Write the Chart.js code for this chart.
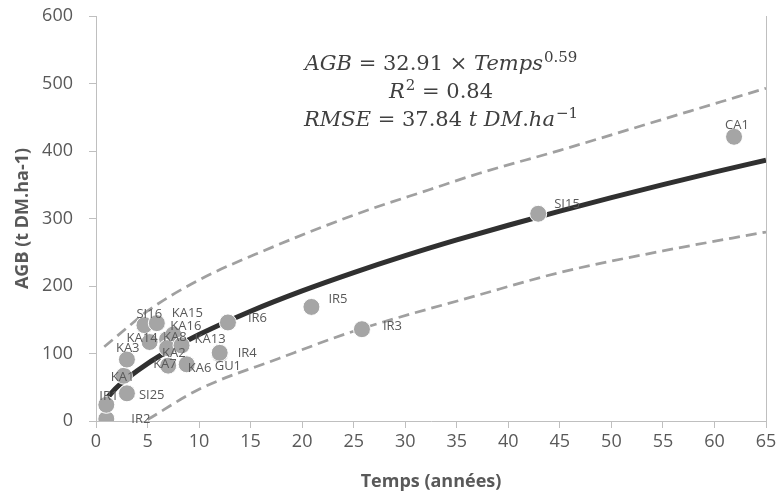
<!DOCTYPE html>
<html>
<head>
<meta charset="utf-8">
<script src="https://cdn.jsdelivr.net/npm/chart.js@4.4.1/dist/chart.umd.min.js"></script>
<style>
  html, body { margin: 0; padding: 0; background: #ffffff; }
  #wrap { width: 780px; height: 499px; position: relative; }
</style>
</head>
<body>
<div id="wrap"><canvas id="c" width="780" height="499"></canvas></div>
<script>
// ---- data ----
const siteNames = ['IR2','IR1','SI25','KA1','KA3','KA14','SI16','KA15','KA8','KA16','KA2','KA7','KA13','KA6','GU1','IR4','IR6','IR5','IR3','SI15','CA1'];
const siteAge   = [1, 1, 3, 2.7, 3, 5.2, 4.7, 5.9, 6.9, 7.5, 6.9, 7, 8.3, 8.8, 12, 12, 12.8, 20.9, 25.8, 42.9, 61.9];
const siteAGB   = [3, 24, 41, 67, 91, 117, 142, 145, 121, 128, 108, 82, 112, 84, 99, 101, 146, 169, 136, 307, 421];

// fitted curve AGB = 32.91 x Temps^0.59
const fitAge = [1, 2, 3, 5, 7, 10, 15, 20, 25, 30, 35, 40, 45, 50, 55, 60, 65];
const fitAGB = [32.9, 49.5, 62.9, 85.1, 103.7, 128.0, 162.6, 192.7, 219.8, 244.9, 268.2, 290.0, 311.0, 330.9, 350.1, 368.6, 386.4];

// dashed bounds
const upperAge = [0.8, 3, 5, 10, 16.4, 25, 32.4, 37.2, 45, 55, 65];
const upperAGB = [110, 138, 163, 209, 253, 305, 343, 367, 401, 447, 493];
const lowerAge = [5, 10, 17.8, 25, 37.2, 45, 55, 65];
const lowerAGB = [2, 47, 93, 133, 187, 220, 252, 280];

// axis ticks
const xTicks = [0,5,10,15,20,25,30,35,40,45,50,55,60,65];
const yTicks = [0,100,200,300,400,500,600];

// label placement (pixel nudges relative to each point), kept apart from the data
const labelDx = [25, -7, 12, -13, -11, -23, -8, 15, -4, -3, -5, -15, 13, 1, -5, 18, 20, 17, 21, 16, -9];
const labelDy = [0, -9, 2, 2, -11, -4, -11, -10, -2, -8, 5, -1, -6, 4, 12, 0, -4, -8, -3, -9, -12];

const eqLines = [
  [{t:'AGB',s:'i'},{t:' = 32.91 × ',s:'n'},{t:'Temps',s:'i'},{t:'0.59',s:'sup'}],
  [{t:'R',s:'i'},{t:'2',s:'sup'},{t:' = 0.84',s:'n'}],
  [{t:'RMSE',s:'i'},{t:' = 37.84 ',s:'n'},{t:'t DM',s:'i'},{t:'.',s:'n'},{t:'ha',s:'i'},{t:'−1',s:'sup'}]
];

const toXY = (xs, ys) => xs.map((x, i) => ({x: x, y: ys[i]}));

const GRAY_AXIS = '#bfbfbf';
const TXT = '#595959';

const labelsPlugin = {
  id: 'pointLabels',
  afterDatasetsDraw(chart) {
    const ctx = chart.ctx;
    const meta = chart.getDatasetMeta(0);
    ctx.save();
    ctx.font = '13px "Open Sans"';
    ctx.fillStyle = TXT;
    ctx.textAlign = 'left';
    ctx.textBaseline = 'middle';
    meta.data.forEach((pt, i) => {
      ctx.fillText(siteNames[i], pt.x + labelDx[i], pt.y + labelDy[i]);
    });
    ctx.restore();
  }
};

const framePlugin = {
  id: 'frame',
  afterDraw(chart) {
    const ctx = chart.ctx, a = chart.chartArea;
    ctx.save();
    ctx.strokeStyle = GRAY_AXIS;
    ctx.lineWidth = 1;
    ctx.beginPath();
    ctx.moveTo(Math.round(a.right) + 0.5, a.top);
    ctx.lineTo(Math.round(a.right) + 0.5, a.bottom);
    ctx.stroke();
    ctx.restore();
  }
};

const eqPlugin = {
  id: 'equation',
  afterDraw(chart) {
    const ctx = chart.ctx;
    const size = 21;
    const fam = '"DejaVu Serif"';
    const fontFor = s => s === 'i' ? `italic ${size}px ${fam}` : s === 'sup' ? `${Math.round(size*0.7)}px ${fam}` : `${size}px ${fam}`;
    const cx = 441;
    const baselines = [70, 98, 126];
    ctx.save();
    ctx.fillStyle = '#404040';
    ctx.textBaseline = 'alphabetic';
    ctx.textAlign = 'left';
    eqLines.forEach((line, li) => {
      let w = 0;
      line.forEach(seg => { ctx.font = fontFor(seg.s); w += ctx.measureText(seg.t).width + (seg.s === 'sup' ? 1 : 0); });
      let x = cx - w / 2;
      line.forEach(seg => {
        ctx.font = fontFor(seg.s);
        const y = baselines[li] - (seg.s === 'sup' ? size * 0.4 : 0);
        ctx.fillText(seg.t, x + (seg.s === 'sup' ? 1 : 0), y);
        x += ctx.measureText(seg.t).width + (seg.s === 'sup' ? 1 : 0);
      });
    });
    ctx.restore();
  }
};

new Chart(document.getElementById('c'), {
  type: 'scatter',
  data: {
    datasets: [
      {
        label: 'Sites',
        data: toXY(siteAge, siteAGB),
        backgroundColor: '#a5a5a5',
        borderColor: '#ffffff',
        borderWidth: 1,
        pointRadius: 8.5,
        pointHoverRadius: 8.5,
        order: 0
      },
      {
        label: 'Ajustement',
        data: toXY(fitAge, fitAGB),
        showLine: true,
        borderColor: '#303030',
        borderWidth: 5,
        pointRadius: 0,
        cubicInterpolationMode: 'monotone',
        fill: false,
        order: 1
      },
      {
        label: 'Borne sup',
        data: toXY(upperAge, upperAGB),
        showLine: true,
        borderColor: '#a0a0a0',
        borderWidth: 2.75,
        borderDash: [11, 6],
        pointRadius: 0,
        cubicInterpolationMode: 'monotone',
        fill: false,
        order: 2
      },
      {
        label: 'Borne inf',
        data: toXY(lowerAge, lowerAGB),
        showLine: true,
        borderColor: '#a0a0a0',
        borderWidth: 2.75,
        borderDash: [11, 6],
        pointRadius: 0,
        cubicInterpolationMode: 'monotone',
        fill: false,
        order: 3
      }
    ]
  },
  options: {
    responsive: false,
    animation: false,
    events: [],
    layout: { padding: { top: 16, right: 14, left: 0, bottom: 0 } },
    plugins: { legend: { display: false }, tooltip: { enabled: false } },
    scales: {
      x: {
        type: 'linear',
        min: 0, max: 65,
        afterBuildTicks(scale) { scale.ticks = xTicks.map(v => ({value: v})); },
        afterFit(scale) { scale.height = 78; scale.paddingLeft = 0; scale.paddingRight = 0; },
        grid: { display: true, drawOnChartArea: false, drawTicks: true, tickLength: 7, color: GRAY_AXIS },
        border: { display: true, color: GRAY_AXIS, width: 1 },
        ticks: { color: TXT, font: { family: '"Open Sans"', size: 18 }, padding: 3, maxRotation: 0 },
        title: { display: true, text: 'Temps (années)', color: TXT, font: { family: '"Open Sans"', size: 18, weight: 'bold' }, padding: { top: 0, bottom: 6 } }
      },
      y: {
        type: 'linear',
        min: 0, max: 600,
        afterBuildTicks(scale) { scale.ticks = yTicks.map(v => ({value: v})); },
        afterFit(scale) { scale.width = 96; scale.paddingTop = 0; scale.paddingBottom = 0; },
        grid: { display: true, drawOnChartArea: false, drawTicks: true, tickLength: 7, color: GRAY_AXIS },
        border: { display: true, color: GRAY_AXIS, width: 1 },
        ticks: { color: TXT, font: { family: '"Open Sans"', size: 18 }, padding: 16 },
        title: { display: true, text: 'AGB (t DM.ha-1)', color: TXT, font: { family: '"Open Sans"', size: 18, weight: 'bold' }, padding: { top: 12, bottom: 0 } }
      }
    }
  },
  plugins: [labelsPlugin, eqPlugin, framePlugin]
});
</script>
</body>
</html>
